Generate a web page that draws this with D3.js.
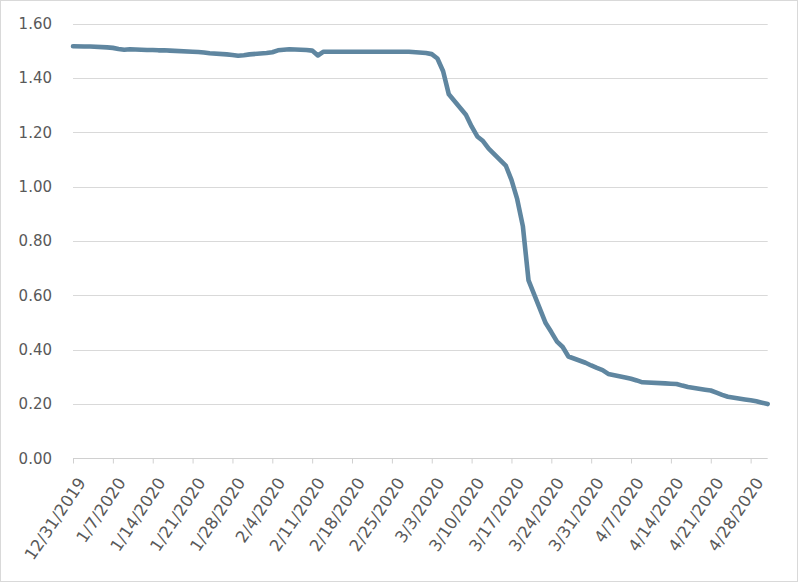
<!DOCTYPE html>
<html>
<head>
<meta charset="utf-8">
<script src="https://cdn.jsdelivr.net/npm/d3@7"></script>
<style>
  html, body { margin: 0; padding: 0; background: #fff; }
  svg { display: block; }
</style>
</head>
<body>
<svg id="chart" width="800" height="583"></svg>
<script>
// ---- data ----
const dates = [
  "2019-12-31","2020-01-02","2020-01-03","2020-01-06","2020-01-07","2020-01-08","2020-01-09","2020-01-10",
  "2020-01-13","2020-01-14","2020-01-15","2020-01-16","2020-01-17","2020-01-21","2020-01-22","2020-01-23",
  "2020-01-24","2020-01-27","2020-01-28","2020-01-29","2020-01-30","2020-01-31","2020-02-03","2020-02-04",
  "2020-02-05","2020-02-06","2020-02-07","2020-02-10","2020-02-11","2020-02-12","2020-02-13","2020-02-14",
  "2020-02-18","2020-02-19","2020-02-20","2020-02-21","2020-02-24","2020-02-25","2020-02-26","2020-02-27",
  "2020-02-28","2020-03-02","2020-03-03","2020-03-04","2020-03-05","2020-03-06","2020-03-09","2020-03-10",
  "2020-03-11","2020-03-12","2020-03-13","2020-03-16","2020-03-17","2020-03-18","2020-03-19","2020-03-20",
  "2020-03-23","2020-03-24","2020-03-25","2020-03-26","2020-03-27","2020-03-30","2020-03-31","2020-04-01",
  "2020-04-02","2020-04-03","2020-04-06","2020-04-07","2020-04-08","2020-04-09","2020-04-13","2020-04-14",
  "2020-04-15","2020-04-16","2020-04-17","2020-04-20","2020-04-21","2020-04-22","2020-04-23","2020-04-24",
  "2020-04-27","2020-04-28","2020-04-29","2020-04-30","2020-05-01"
];
const values = [
  1.517,1.516,1.516,1.513,1.511,1.507,1.504,1.506,
  1.503,1.503,1.502,1.502,1.501,1.497,1.496,1.494,
  1.491,1.487,1.485,1.482,1.484,1.487,1.492,1.495,
  1.502,1.504,1.506,1.503,1.501,1.483,1.497,1.497,
  1.497,1.497,1.497,1.497,1.497,1.497,1.497,1.497,
  1.497,1.492,1.488,1.472,1.425,1.340,1.265,1.222,
  1.185,1.168,1.140,1.078,1.025,0.955,0.855,0.655,
  0.498,0.465,0.430,0.410,0.375,0.352,0.342,0.333,
  0.325,0.311,0.298,0.293,0.287,0.280,0.276,0.275,
  0.274,0.268,0.263,0.253,0.250,0.242,0.234,0.227,
  0.217,0.214,0.210,0.205,0.200
];
const xTickLabels = ["12/31/2019","1/7/2020","1/14/2020","1/21/2020","1/28/2020","2/4/2020","2/11/2020",
  "2/18/2020","2/25/2020","3/3/2020","3/10/2020","3/17/2020","3/24/2020","3/31/2020","4/7/2020",
  "4/14/2020","4/21/2020","4/28/2020"];
const yTicks = [0, 0.2, 0.4, 0.6, 0.8, 1.0, 1.2, 1.4, 1.6];
const xDomain = ["2019-12-31", "2020-05-01"];

// ---- drawing ----
const svg = d3.select("#chart");
const parseISO = d3.utcParse("%Y-%m-%d");
const parseLbl = d3.utcParse("%m/%d/%Y");
const plotL = 73, plotR = 767.7, plotT = 23.7, plotB = 458.4;

const x = d3.scaleUtc().domain(xDomain.map(parseISO)).range([plotL, plotR]);
const y = d3.scaleLinear().domain([0, 1.6]).range([plotB, plotT]);

svg.append("rect").attr("x", 0.5).attr("y", 0.5).attr("width", 797).attr("height", 581)
  .attr("fill", "#fff").attr("stroke", "#d9d9d9").attr("stroke-width", 1);

const fontFam = "'DejaVu Sans', sans-serif";

// gridlines
svg.append("g")
  .selectAll("line").data(yTicks.filter(d => d > 0)).join("line")
  .attr("x1", plotL).attr("x2", plotR)
  .attr("y1", d => Math.round(y(d)) + 0.5).attr("y2", d => Math.round(y(d)) + 0.5)
  .attr("stroke", "#d9d9d9").attr("stroke-width", 1);

// y axis labels
const yAxis = d3.axisLeft(y).tickValues(yTicks).tickFormat(d3.format(".2f")).tickSize(0).tickPadding(21);
const gy = svg.append("g").attr("transform", `translate(${plotL},0)`).call(yAxis);
gy.select(".domain").remove();
gy.selectAll("text").attr("font-family", fontFam).attr("font-size", 15).attr("fill", "#595959");

// x axis
const xAxis = d3.axisBottom(x).tickValues(xTickLabels.map(parseLbl))
  .tickFormat(d3.utcFormat("%-m/%-d/%Y")).tickSize(5).tickSizeOuter(0);
const gx = svg.append("g").attr("transform", `translate(0,${Math.round(plotB) + 0.5})`).call(xAxis);
gx.select(".domain").attr("stroke", "#d0d0d0").attr("d", `M${plotL},0H${plotR}`);
gx.selectAll(".tick line").attr("stroke", "#d0d0d0");
gx.selectAll("text")
  .attr("font-family", fontFam).attr("font-size", 16.5).attr("fill", "#595959")
  .attr("text-anchor", "end")
  .attr("dy", 0).attr("y", 0)
  .attr("transform", "translate(13,24) rotate(-56)");

// line
const data = dates.map((d, i) => ({ date: parseISO(d), value: values[i] }));
const line = d3.line().x(d => x(d.date)).y(d => y(d.value));
svg.append("path").datum(data)
  .attr("d", line)
  .attr("fill", "none")
  .attr("stroke", "#5f86a0")
  .attr("stroke-width", 4.6)
  .attr("stroke-linejoin", "round")
  .attr("stroke-linecap", "round");
</script>
</body>
</html>
